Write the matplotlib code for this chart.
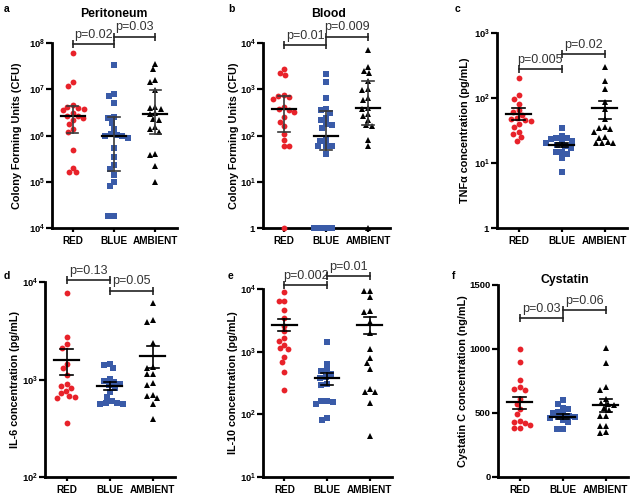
import numpy as np
import matplotlib
matplotlib.use('Agg')
import matplotlib.pyplot as plt
from matplotlib.ticker import FixedLocator, NullLocator

plt.rcParams['font.family'] = ['Liberation Sans', 'DejaVu Sans']
plt.rcParams['mathtext.fontset'] = 'custom'
plt.rcParams['mathtext.rm'] = 'Liberation Sans'
plt.rcParams['mathtext.bf'] = 'Liberation Sans:bold'

groups = ['RED', 'BLUE', 'AMBIENT']

# ---- Panel a: Peritoneum CFU ----
peri_red = [6e7, 1.4e7, 1.2e7, 4.5e6, 4.2e6, 4.0e6, 3.8e6, 3.5e6, 3.0e6, 2.7e6,
            2.6e6, 2.4e6, 2.2e6, 1.8e6, 1.4e6, 1.2e6, 4.8e5, 2.0e5, 1.6e5, 1.6e5]
peri_blue = [3.3e7, 8e6, 7e6, 5e6, 2.5e6, 2.4e6, 1.9e6, 1.4e6, 1.1e6, 1.05e6, 1e6,
             1e6, 9e5, 5.5e5, 3.5e5, 2.3e5, 1.9e5, 1.4e5, 1e5, 8e4, 1.8e4, 1.8e4]
peri_amb = [3.5e7, 2.7e7, 1.6e7, 1.4e7, 9.5e6, 4.2e6, 4.0e6, 3.8e6, 3.0e6, 2.9e6,
            2.3e6, 2.2e6, 1.5e6, 1.4e6, 1.2e6, 4.0e5, 3.7e5, 2.2e5, 1.0e5]
peri_mid = [2.6e6, 1.0e6, 2.9e6]
peri_lo = [1.15e6, 1.75e5, 1.1e6]
peri_hi = [4.3e6, 2.5e6, 9.8e6]

# ---- Panel b: Blood CFU (zero counts drawn at 1) ----
blood_red = [2700, 2200, 2000, 750, 720, 680, 620, 420, 380, 360, 330, 250, 200,
             160, 110, 80, 60, 60, 1]
blood_blue = [2100, 1450, 650, 380, 350, 310, 240, 220, 175, 170, 145, 80, 75,
              58, 58, 58, 40, 1, 1, 1, 1]
blood_amb = [7000, 3000, 2500, 2200, 1500, 1000, 950, 660, 580, 400, 380, 290,
             270, 215, 165, 160, 80, 58, 1]
blood_mid = [370, 100, 390]
blood_lo = [120, 48, 165]
blood_hi = [700, 340, 1500]

# ---- Panel c: TNFa ----
tnf_red = [205, 110, 95, 80, 65, 60, 55, 50, 48, 46, 45, 40, 36, 30, 28, 25, 22]
tnf_blue = [35, 26, 24, 24, 23, 22, 21, 20, 19, 18, 17, 15, 15, 14, 12, 7.3]
tnf_amb = [300, 180, 140, 88, 67, 48, 36, 34, 33, 30, 25, 24, 21, 20, 20, 20]
tnf_mid = [57, 19, 69]
tnf_lo = [46, 17.7, 48]
tnf_hi = [69, 20.5, 89]

# ---- Panel d: IL-6 ----
il6_red = [7800, 2700, 2300, 2100, 1450, 1300, 1100, 900, 850, 820, 760, 720, 680,
           660, 650, 360]
il6_blue = [1450, 1400, 1300, 1020, 960, 940, 900, 880, 820, 750, 660, 600, 580,
            570, 560, 560]
il6_amb = [6100, 4100, 3900, 2350, 1350, 1300, 1150, 1130, 920, 870, 700, 670,
           650, 560, 390]
il6_mid = [1580, 855, 1750]
il6_lo = [1120, 780, 1320]
il6_hi = [2050, 950, 2200]

# ---- Panel e: IL-10 ----
il10_red = [9000, 6500, 6400, 4700, 3400, 2600, 2100, 1650, 1500, 1300, 1150,
            1100, 820, 680, 480, 245]
il10_blue = [1420, 640, 510, 500, 440, 400, 380, 300, 290, 165, 165, 160, 148,
             87, 82]
il10_amb = [9300, 9200, 7500, 4400, 4300, 3000, 1950, 1100, 790, 660, 520, 250,
            225, 225, 150, 45]
il10_mid = [2650, 380, 2700]
il10_lo = [2100, 295, 1920]
il10_hi = [3300, 460, 3550]

# ---- Panel f: Cystatin C ----
cys_red = [1000, 900, 760, 700, 690, 680, 610, 570, 530, 490, 440, 430, 420, 410,
           380, 380]
cys_blue = [600, 570, 540, 530, 510, 500, 490, 480, 470, 465, 460, 445, 430, 375,
            375]
cys_amb = [1010, 890, 700, 680, 610, 580, 570, 560, 540, 520, 480, 475, 400, 395,
           350, 345]
cys_mid = [583, 470, 566]
cys_lo = [530, 450, 509]
cys_hi = [626, 490, 608]

# p-value brackets: (label, y)
peri_p = [('p=0.02', 9.3e7), ('p=0.03', 1.35e8)]
blood_p = [('p=0.01', 8900), ('p=0.009', 13500)]
tnf_p = [('p=0.005', 275), ('p=0.02', 470)]
il6_p = [('p=0.13', 10400), ('p=0.05', 8100)]
il10_p = [('p=0.002', 11500), ('p=0.01', 16000)]
cys_p = [('p=0.03', 1239), ('p=0.06', 1304)]

W, H = 635, 496
fig = plt.figure(figsize=(W / 100, H / 100), dpi=100)

colors = ['#E8222A', '#3A5BA8', '#000000']
markers = ['o', 's', '^']
msizes = [4.2, 3.8, 4.4]


def px_axes(l, t, r, b):
    return fig.add_axes([l / W, 1 - b / H, (r - l) / W, (b - t) / H])


def swarm(ax, vals, center, diam):
    disp = ax.transData.transform(np.column_stack([np.full(len(vals), float(center)),
                                                   np.asarray(vals, float)]))
    ys = disp[:, 1]
    ppu = ax.transData.transform([[1, 1]])[0, 0] - ax.transData.transform([[0, 1]])[0, 0]
    order = np.argsort(-ys)
    placed = []
    xs = np.zeros(len(vals))
    for i in order:
        y = ys[i]
        cands = [0.0]
        for (xp, yp) in placed:
            dy = abs(y - yp)
            if dy < diam:
                dx = np.sqrt(diam ** 2 - dy ** 2)
                cands += [xp + dx, xp - dx]
        cands = sorted(cands, key=lambda c: (abs(c), c))
        for c in cands:
            ok = True
            for (xp, yp) in placed:
                if (c - xp) ** 2 + (y - yp) ** 2 < diam ** 2 - 1e-6:
                    ok = False
                    break
            if ok:
                break
        placed.append((c, y))
        xs[i] = center + c / ppu
    return xs


def panel(pos, data, mid, lo, hi, ptxt, yscale, ylim, yticks, yticklabels,
          ylabel, ylabel_x, ebcolor, letter, letter_xy, title=None, title_xy=None):
    ax = px_axes(*pos)
    ax.set_xlim(-0.5, 2.52)
    ax.set_yscale(yscale)
    ax.set_ylim(*ylim)
    for s in ['top', 'right']:
        ax.spines[s].set_visible(False)
    for s in ['left', 'bottom']:
        ax.spines[s].set_linewidth(2.0)
    ax.yaxis.set_major_locator(FixedLocator(yticks))
    ax.yaxis.set_minor_locator(NullLocator())
    ax.set_yticklabels(yticklabels, fontsize=6.8, fontweight='bold')
    ax.set_xticks([0, 1, 2])
    ax.set_xticklabels(groups, fontsize=7.2, fontweight='bold')
    ax.tick_params(axis='y', width=1.6, length=4, pad=1.2)
    ax.tick_params(axis='x', width=1.6, length=3, pad=3)
    ax.set_ylabel(ylabel, fontsize=7.8, fontweight='bold', va='center')
    l, r = pos[0], pos[2]
    ax.yaxis.set_label_coords((ylabel_x - l) / (r - l), 0.5)
    for g in range(3):
        xs = swarm(ax, data[g], g, 5.8)
        ax.plot(xs, data[g], linestyle='none', marker=markers[g], color=colors[g],
                markersize=msizes[g], markeredgewidth=0, clip_on=False, zorder=3)
        ax.plot([g - 0.29, g + 0.29], [mid[g], mid[g]], color='black', lw=1.6, zorder=4)
        ax.plot([g, g], [lo[g], hi[g]], color=ebcolor, lw=1.2, zorder=4)
        for v in (lo[g], hi[g]):
            ax.plot([g - 0.14, g + 0.14], [v, v], color=ebcolor, lw=1.2, zorder=4)
    for k, (txt, yv) in enumerate(ptxt):
        x1, x2 = k, k + 1
        ax.plot([x1, x2], [yv, yv], color='#222222', lw=1.2, clip_on=False,
                marker='|', markersize=6, markeredgewidth=1.2, zorder=5)
        ax.annotate(txt, xy=((x1 + x2) / 2, yv), xytext=(0, 2.5),
                    textcoords='offset points', ha='center', va='bottom',
                    fontsize=9, color='#333333', annotation_clip=False)
    fig.text(letter_xy[0] / W, 1 - letter_xy[1] / H, letter, fontsize=7.5,
             fontweight='bold', ha='left', va='center')
    if title:
        fig.text(title_xy[0] / W, 1 - title_xy[1] / H, title, fontsize=8.8,
                 fontweight='bold', ha='center', va='center')
    return ax


def pw(e):
    return r'$\mathbf{10^{%d}}$' % e


cfu = 'Colony Forming Units (CFU)'
panel((52, 43, 177, 228), [peri_red, peri_blue, peri_amb], peri_mid, peri_lo, peri_hi,
      peri_p, 'log', (1e4, 1e8), [1e4, 1e5, 1e6, 1e7, 1e8], [pw(e) for e in range(4, 9)],
      cfu, 17, '#3a3a3a', 'a', (4, 9), 'Peritoneum', (114, 14))
panel((263, 43, 390, 228), [blood_red, blood_blue, blood_amb], blood_mid, blood_lo, blood_hi,
      blood_p, 'log', (1, 1e4), [1, 10, 100, 1e3, 1e4], ['$\\mathbf{1}$'] + [pw(e) for e in range(1, 5)],
      cfu, 234, '#3a3a3a', 'b', (228, 9), 'Blood', (329, 14))
panel((497, 33, 627, 228), [tnf_red, tnf_blue, tnf_amb], tnf_mid, tnf_lo, tnf_hi,
      tnf_p, 'log', (1, 1e3), [1, 10, 100, 1e3], ['$\\mathbf{1}$'] + [pw(e) for e in range(1, 4)],
      'TNFα concentration (pg/mL)', 465, 'black', 'c', (455, 9))
panel((45, 282, 175, 477), [il6_red, il6_blue, il6_amb], il6_mid, il6_lo, il6_hi,
      il6_p, 'log', (1e2, 1e4), [1e2, 1e3, 1e4], [pw(e) for e in range(2, 5)],
      'IL-6 concentration (pg/mL)', 15, 'black', 'd', (4, 276))
panel((263, 289, 392, 477), [il10_red, il10_blue, il10_amb], il10_mid, il10_lo, il10_hi,
      il10_p, 'log', (10, 1e4), [10, 100, 1e3, 1e4], [pw(e) for e in range(1, 5)],
      'IL-10 concentration (pg/mL)', 233, 'black', 'e', (228, 276))
panel((498, 285, 628, 477), [cys_red, cys_blue, cys_amb], cys_mid, cys_lo, cys_hi,
      cys_p, 'linear', (0, 1500), [0, 500, 1000, 1500], ['0', '500', '1000', '1500'],
      'Cystatin C concentration (ng/mL)', 463, 'black', 'f', (452, 276), 'Cystatin', (565, 280))

fig.savefig('out.png', dpi=100)
